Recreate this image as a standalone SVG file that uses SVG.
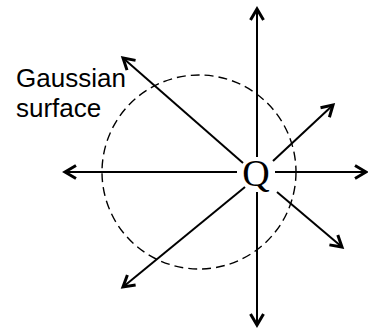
<svg xmlns="http://www.w3.org/2000/svg" width="368" height="331" viewBox="0 0 368 331">
<style>
.ln{stroke:#000;stroke-width:2;fill:none}
.gs{stroke:#000;stroke-width:1.4;fill:none;stroke-dasharray:9 5}
.lbl{font-family:"Liberation Sans",Arial,sans-serif;font-size:26px;fill:#000}
.q{font-family:"Liberation Serif","Times New Roman",serif;font-size:38px;fill:#000}
</style>
<defs>
<marker id="ah" markerUnits="userSpaceOnUse" viewBox="-14 -9 16 18" markerWidth="16" markerHeight="18" refX="0" refY="0" orient="auto" overflow="visible">
<path d="M-11,-6.5 L0,0 L-11,6.5" fill="none" stroke="#000" stroke-width="3" stroke-linejoin="miter"/>
</marker>
</defs>
<rect width="368" height="331" fill="#fff"/>
<g id="gaussian-surface">
<circle class="gs" cx="199" cy="172" r="97"/>
<text class="lbl" x="16" y="87">Gaussian</text>
<text class="lbl" x="16" y="117">surface</text>
</g>
<g id="charge-Q">
<text class="q" x="256" y="186" text-anchor="middle">Q</text>
</g>
<g id="connectors">
<line class="ln" x1="257" y1="157" x2="257" y2="9" marker-end="url(#ah)"/>
<line class="ln" x1="257" y1="192" x2="257" y2="325" marker-end="url(#ah)"/>
<line class="ln" x1="237" y1="172" x2="65" y2="172" marker-end="url(#ah)"/>
<line class="ln" x1="275" y1="172" x2="366" y2="172" marker-end="url(#ah)"/>
<line class="ln" x1="243" y1="163" x2="123" y2="58" marker-end="url(#ah)"/>
<line class="ln" x1="273" y1="161" x2="333" y2="105" marker-end="url(#ah)"/>
<line class="ln" x1="245" y1="187" x2="123" y2="287" marker-end="url(#ah)"/>
<line class="ln" x1="277" y1="192" x2="342" y2="247" marker-end="url(#ah)"/>
</g>
</svg>
